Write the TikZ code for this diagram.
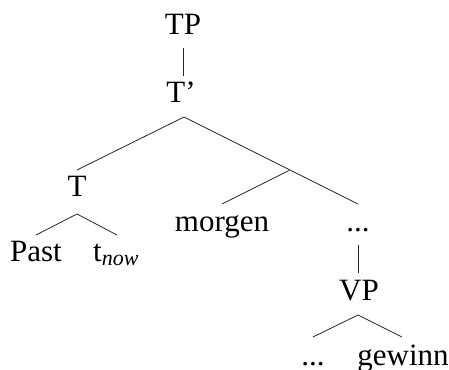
\documentclass[tikz,border=0pt]{standalone}
\usepackage{fontspec}
\setmainfont{Liberation Serif}[ItalicFont={Liberation Serif Italic}]
\tikzset{
  lbl/.style={inner sep=0pt, anchor=base, font=\fontsize{31}{37}\selectfont},
  br/.style={line width=0.8pt, black!85}
}
\begin{document}
\begin{tikzpicture}[x=1pt,y=1pt]
\useasboundingbox (0,0) rectangle (449,369);
% labels
\node[lbl] (tp) at (183,334) {TP};
\node[lbl] (tbar) at (181,266) {T’};
\node[lbl] (t) at (77,172) {T};
\node[lbl] (past) at (36,107) {Past};
\node[lbl, anchor=base west] (tnow) at (93,107) {t\raisebox{-4pt}{\fontsize{22}{22}\selectfont\itshape now}};
\node[lbl] (morgen) at (222,137) {morgen};
\node[lbl] (dots) at (358,137) {...};
\node[lbl] (vp) at (359,68) {VP};
\node[lbl] (dots2) at (313,4) {...};
\node[lbl] (gewinn) at (403,4) {gewinn};
% branch points
\coordinate (tp-b) at (183,321);
\coordinate (tbar-t) at (183,293);
\coordinate (tbar-b) at (184,252);
\coordinate (t-t) at (77,199);
\coordinate (xp) at (289,198.5);
\coordinate (dots-t) at (358,165);
\coordinate (morgen-t) at (222,165);
\coordinate (t-b) at (77,155);
\coordinate (past-t) at (36,134);
\coordinate (tnow-t) at (117,134);
\coordinate (dots-b) at (358,124);
\coordinate (vp-t) at (358,96);
\coordinate (vp-b) at (358,54);
\coordinate (dots2-t) at (313,32);
\coordinate (gewinn-t) at (402,32);
% connectors
\draw[br] (tp-b) -- (tbar-t);
\draw[br] (t-t) -- (tbar-b) -- (dots-t);
\draw[br] (xp) -- (morgen-t);
\draw[br] (past-t) -- (t-b) -- (tnow-t);
\draw[br] (dots-b) -- (vp-t);
\draw[br] (dots2-t) -- (vp-b) -- (gewinn-t);
\end{tikzpicture}
\end{document}
